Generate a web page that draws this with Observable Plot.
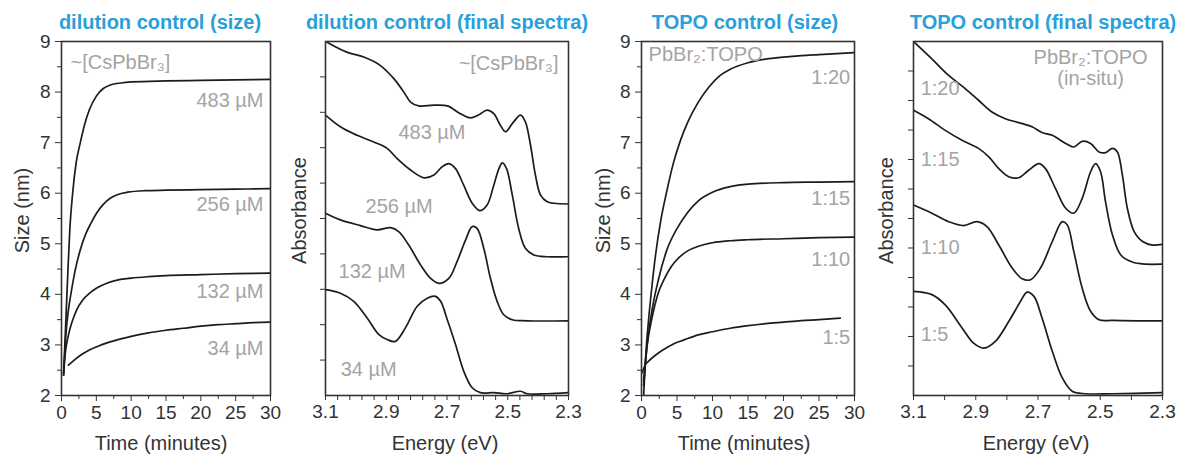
<!DOCTYPE html>
<html><head><meta charset="utf-8">
<script src="https://cdn.jsdelivr.net/npm/d3@7"></script>
<script src="https://cdn.jsdelivr.net/npm/@observablehq/plot@0.6"></script>
<style>
body{margin:0;background:#fff;}
#wrap{position:relative;width:1184px;height:454px;overflow:hidden;background:#fff;}
#wrap svg{position:absolute;top:0;overflow:visible;}
</style></head><body><div id="wrap"></div>
<script>
// ---------- Panel titles ----------
const titles = ["dilution control (size)", "dilution control (final spectra)", "TOPO control (size)", "TOPO control (final spectra)"];

// ---------- Tick values ----------
const timeTicks = [0, 5, 10, 15, 20, 25, 30];
const timeMinor = [2.5, 7.5, 12.5, 17.5, 22.5, 27.5];
const sizeTicks = [2, 3, 4, 5, 6, 7, 8, 9];
const sizeMinor = [2.5, 3.5, 4.5, 5.5, 6.5, 7.5, 8.5];
const energyTicks = [3.1, 2.9, 2.7, 2.5, 2.3];
const energyMinorDil = [3.06, 3.02, 2.98, 2.94, 2.86, 2.82, 2.78, 2.74, 2.66, 2.62, 2.58, 2.54, 2.46, 2.42, 2.38, 2.34];
const energyMinorTopo = [3.0, 2.8, 2.6, 2.4];
const absTicksDil = [1, 2, 3, 4, 5, 6, 7, 8, 9];
const absTicksTopo = [0.833, 1.667, 2.5, 3.333, 4.167, 5, 5.833, 6.667, 7.5, 8.333, 9.167];

// ---------- Dilution control: size vs time [min, nm] ----------
const dil483 = [[0.3,2.4],[0.6,3.4],[0.9,4.4],[1.2,5.3],[1.6,6.0],[2.1,6.6],[2.7,7.0],[3.3,7.35],[4,7.65],[5,7.92],[6,8.07],[7,8.14],[8.5,8.18],[10,8.2],[15,8.22],[20,8.23],[25,8.24],[30,8.25]];
const dil256 = [[0.3,2.4],[0.6,3.15],[1,3.7],[1.4,4.05],[2,4.5],[2.7,4.88],[3.5,5.2],[4.2,5.4],[5,5.6],[6,5.78],[7,5.9],[8,5.97],[9.5,6.02],[12,6.05],[15,6.06],[20,6.07],[25,6.08],[30,6.09]];
const dil132 = [[0.3,2.45],[0.6,2.9],[1,3.2],[1.5,3.45],[2.2,3.7],[3,3.88],[4,4.02],[5,4.12],[6.5,4.22],[8,4.28],[10,4.32],[12.5,4.35],[15,4.37],[20,4.39],[25,4.41],[30,4.42]];
const dil34 = [[1.0,2.6],[2,2.72],[3,2.82],[4,2.9],[5.5,2.99],[7,3.06],[8.5,3.12],[10,3.17],[12.5,3.24],[15,3.29],[17.5,3.33],[20,3.37],[22.5,3.4],[25,3.42],[27.5,3.44],[30,3.45]];
const dilSizeLabels = [["~[CsPbBr₃]",1.3,8.58,"start"],["483 µM",29,7.83,"end"],["256 µM",29,5.78,"end"],["132 µM",29,4.06,"end"],["34 µM",29,2.93,"end"]];

// ---------- Dilution control: final spectra [eV, offset absorbance] ----------
const spec483 = [[3.095,9.98],[3.03,9.7],[2.974,9.56],[2.919,9.32],[2.875,8.95],[2.842,8.57],[2.82,8.29],[2.793,8.18],[2.743,8.2],[2.699,8.18],[2.656,7.96],[2.623,7.84],[2.595,7.93],[2.568,8.06],[2.546,7.96],[2.524,7.63],[2.507,7.45],[2.485,7.68],[2.458,7.92],[2.442,7.73],[2.425,7.07],[2.409,6.23],[2.392,5.66],[2.37,5.47],[2.348,5.43],[2.3,5.41]];
const spec256 = [[3.1,7.92],[3.051,7.59],[2.996,7.35],[2.941,7.16],[2.897,6.98],[2.864,6.69],[2.82,6.37],[2.776,6.15],[2.743,6.23],[2.716,6.46],[2.694,6.55],[2.672,6.41],[2.645,5.94],[2.617,5.43],[2.592,5.22],[2.568,5.38],[2.546,5.94],[2.529,6.41],[2.518,6.57],[2.504,6.41],[2.485,5.66],[2.464,4.72],[2.442,4.16],[2.414,3.97],[2.37,3.92],[2.3,3.92]];
const spec132 = [[3.1,5.15],[3.051,4.96],[2.985,4.8],[2.93,4.68],[2.886,4.74],[2.859,4.63],[2.826,4.25],[2.787,3.69],[2.754,3.31],[2.727,3.17],[2.694,3.31],[2.667,3.78],[2.639,4.39],[2.617,4.77],[2.601,4.72],[2.579,4.16],[2.557,3.31],[2.535,2.66],[2.513,2.28],[2.485,2.14],[2.436,2.11],[2.3,2.11]];
const spec34 = [[3.1,2.99],[3.051,2.89],[3.007,2.66],[2.963,2.19],[2.924,1.72],[2.897,1.58],[2.87,1.53],[2.837,1.91],[2.798,2.52],[2.765,2.75],[2.738,2.8],[2.721,2.66],[2.699,2.14],[2.672,1.44],[2.645,0.69],[2.617,0.22],[2.59,0.08],[2.546,0.08],[2.502,0.05],[2.458,0.12],[2.436,0.05],[2.37,0.05],[2.3,0.08]];
const dilSpecLabels = [["~[CsPbBr₃]",2.333,9.38,"end"],["483 µM",2.86,7.44,"start"],["256 µM",2.968,5.35,"start"],["132 µM",3.057,3.49,"start"],["34 µM",3.05,0.73,"start"]];

// ---------- TOPO control: size vs time ----------
const topo20 = [[0.3,2.0],[0.6,2.8],[1,3.5],[1.5,4.2],[2,4.8],[2.7,5.45],[3.5,6.0],[4.5,6.6],[5.5,7.05],[6.5,7.4],[8,7.8],[9.5,8.1],[11,8.32],[12.5,8.45],[15,8.58],[17.5,8.65],[20,8.69],[22.5,8.72],[25,8.74],[27.5,8.76],[30,8.78]];
const topo15 = [[0.3,2.2],[0.8,3.0],[1.5,3.7],[2.4,4.3],[3.5,4.85],[5,5.3],[6.5,5.62],[8,5.85],[10,6.02],[12.5,6.13],[15,6.18],[20,6.21],[25,6.22],[30,6.23]];
const topo10 = [[0.3,2.3],[0.8,3.0],[1.5,3.55],[2.3,4.0],[3.2,4.3],[4.2,4.55],[5.3,4.73],[6.5,4.86],[8,4.95],[10,5.02],[12.5,5.06],[15,5.08],[20,5.1],[25,5.12],[30,5.13]];
const topo5 = [[0.1,2.45],[0.5,2.6],[1,2.68],[2,2.8],[3,2.9],[4.5,3.02],[6,3.1],[8,3.2],[10,3.26],[12.5,3.33],[15,3.38],[17.5,3.42],[20,3.45],[22.5,3.48],[25,3.5],[28,3.53]];
const topoSizeLabels = [["PbBr₂:TOPO",1.0,8.75,"start"],["1:20",29.4,8.29,"end"],["1:15",29.4,5.9,"end"],["1:10",29.4,4.69,"end"],["1:5",29.4,3.15,"end"]];

// ---------- TOPO control: final spectra ----------
const topoSpec20 = [[3.1,10],[3.041,9.51],[2.987,9.04],[2.934,8.67],[2.891,8.34],[2.848,8.01],[2.805,7.82],[2.762,7.71],[2.719,7.59],[2.687,7.43],[2.654,7.35],[2.611,7.12],[2.585,7.02],[2.558,7.18],[2.531,7.12],[2.504,6.88],[2.483,6.86],[2.461,6.98],[2.445,6.88],[2.429,6.23],[2.413,5.29],[2.391,4.63],[2.364,4.35],[2.332,4.25],[2.3,4.27]];
const topoSpec15 = [[3.1,8.06],[3.052,7.82],[2.998,7.49],[2.944,7.21],[2.891,6.98],[2.858,6.74],[2.826,6.41],[2.794,6.18],[2.762,6.15],[2.729,6.37],[2.697,6.55],[2.676,6.41],[2.644,5.85],[2.611,5.29],[2.585,5.15],[2.558,5.57],[2.531,6.32],[2.515,6.55],[2.499,6.32],[2.483,5.47],[2.461,4.54],[2.434,3.97],[2.397,3.77],[2.354,3.71],[2.3,3.71]];
const topoSpec10 = [[3.1,5.38],[3.041,5.15],[2.987,4.91],[2.939,4.8],[2.896,4.91],[2.864,4.77],[2.826,4.25],[2.783,3.6],[2.751,3.3],[2.724,3.27],[2.692,3.6],[2.654,4.35],[2.622,4.91],[2.606,4.82],[2.585,4.07],[2.558,3.03],[2.531,2.38],[2.504,2.14],[2.461,2.12],[2.375,2.11],[2.3,2.11]];
const topoSpec5 = [[3.1,2.94],[3.041,2.85],[2.998,2.56],[2.944,1.91],[2.907,1.48],[2.874,1.34],[2.837,1.53],[2.794,2.09],[2.756,2.66],[2.735,2.92],[2.713,2.8],[2.687,2.19],[2.654,1.25],[2.622,0.5],[2.59,0.12],[2.547,0.05],[2.461,0.05],[2.3,0.08]];
const topoSpecLabels = [["PbBr₂:TOPO",2.531,9.55,"middle"],["(in-situ)",2.531,8.96,"middle"],["1:20",3.077,8.68,"start"],["1:15",3.077,6.65,"start"],["1:10",3.077,4.17,"start"],["1:5",3.077,1.72,"start"]];

// ---------- Drawing ----------
const FONT = '"Liberation Sans", Arial, Helvetica, sans-serif';
const INK = "#333";
const LINE = "#1c1c1c";
const GREY = "#a4a4a4";
const BLUE = "#2a9fd8";
const wrap = document.getElementById("wrap");

function labelMarks(labels) {
  return ["start", "middle", "end"].map(a => Plot.text(labels.filter(d => d[3] === a), {
    x: d => d[1], y: d => d[2], text: d => d[0], textAnchor: a, lineAnchor: "middle",
    fill: GREY, fontSize: 20, fontFamily: FONT
  }));
}

function panel(cfg) {
  const isSpec = cfg.kind === "spec";
  const lineMarks = cfg.series.map(s => Plot.line(s, {
    x: d => d[0], y: d => d[1], stroke: LINE, strokeWidth: 1.7,
    curve: isSpec ? "catmull-rom" : "monotone-x", clip: true
  }));
  const svg = Plot.plot({
    width: cfg.width, height: 454,
    marginLeft: cfg.ml, marginRight: cfg.mr, marginTop: 41, marginBottom: 59,
    style: {fontFamily: FONT, fontSize: "19px", color: INK, background: "transparent", overflow: "visible"},
    x: {domain: cfg.xDomain},
    y: {domain: cfg.yDomain},
    marks: [
      ...lineMarks,
      ...labelMarks(cfg.labels),
      Plot.axisX({ticks: cfg.xTicks, tickSize: isSpec ? 5 : 6, tickPadding: 4,
        tickFormat: isSpec ? d3.format(".1f") : d3.format("d"), label: null, fontSize: 19}),
      Plot.axisX({ticks: cfg.xMinor, tickSize: isSpec ? 5 : 4, fill: "none", label: null}),
      isSpec
        ? Plot.axisY({ticks: cfg.yTicks, tickSize: 5, fill: "none", label: null})
        : Plot.axisY({ticks: cfg.yTicks, tickSize: 6, tickPadding: 5, tickFormat: d3.format("d"), label: null, fontSize: 19}),
      isSpec ? null : Plot.axisY({ticks: cfg.yMinor, tickSize: 4, fill: "none", label: null}),
      Plot.frame({stroke: INK, strokeWidth: 1.6}),
      Plot.text([cfg.title], {frameAnchor: "top", dy: -19, dx: cfg.titleDx, fontSize: 20, fontWeight: "bold",
        fill: BLUE, textAnchor: "middle", lineAnchor: "middle", fontFamily: FONT}),
      Plot.text([cfg.xLabel], {frameAnchor: "bottom", dy: 48, dx: cfg.xLabelDx, fontSize: 20, fill: INK,
        textAnchor: "middle", lineAnchor: "middle", fontFamily: FONT}),
      Plot.text([cfg.yLabel], {frameAnchor: "left", dx: cfg.yLabelDx, dy: -8, rotate: -90, fontSize: 20, fill: INK,
        textAnchor: "middle", lineAnchor: "middle", fontFamily: FONT})
    ]
  });
  svg.style.left = cfg.left + "px";
  wrap.append(svg);
}

panel({kind: "size", left: 0, width: 280, ml: 61, mr: 10, xDomain: [0, 30], yDomain: [2, 9],
  xTicks: timeTicks, xMinor: timeMinor, yTicks: sizeTicks, yMinor: sizeMinor,
  series: [dil483, dil256, dil132, dil34], labels: dilSizeLabels,
  title: titles[0], titleDx: -6, xLabel: "Time (minutes)", xLabelDx: -5, yLabel: "Size (nm)", yLabelDx: -39});

panel({kind: "spec", left: 280, width: 300, ml: 45, mr: 12, xDomain: [3.1, 2.3], yDomain: [0, 10],
  xTicks: energyTicks, xMinor: energyMinorDil, yTicks: absTicksDil,
  series: [spec483, spec256, spec132, spec34], labels: dilSpecLabels,
  title: titles[1], titleDx: 0, xLabel: "Energy (eV)", xLabelDx: -2, yLabel: "Absorbance", yLabelDx: -26});

panel({kind: "size", left: 580, width: 290, ml: 61, mr: 16, xDomain: [0, 30], yDomain: [2, 9],
  xTicks: timeTicks, xMinor: timeMinor, yTicks: sizeTicks, yMinor: sizeMinor,
  series: [topo20, topo15, topo10, topo5], labels: topoSizeLabels,
  title: titles[2], titleDx: -3, xLabel: "Time (minutes)", xLabelDx: -4, yLabel: "Size (nm)", yLabelDx: -38});

panel({kind: "spec", left: 870, width: 314, ml: 43, mr: 22, xDomain: [3.1, 2.3], yDomain: [0, 10],
  xTicks: energyTicks, xMinor: energyMinorTopo, yTicks: absTicksTopo,
  series: [topoSpec20, topoSpec15, topoSpec10, topoSpec5], labels: topoSpecLabels,
  title: titles[3], titleDx: 5, xLabel: "Energy (eV)", xLabelDx: -2, yLabel: "Absorbance", yLabelDx: -27});
</script></body></html>
